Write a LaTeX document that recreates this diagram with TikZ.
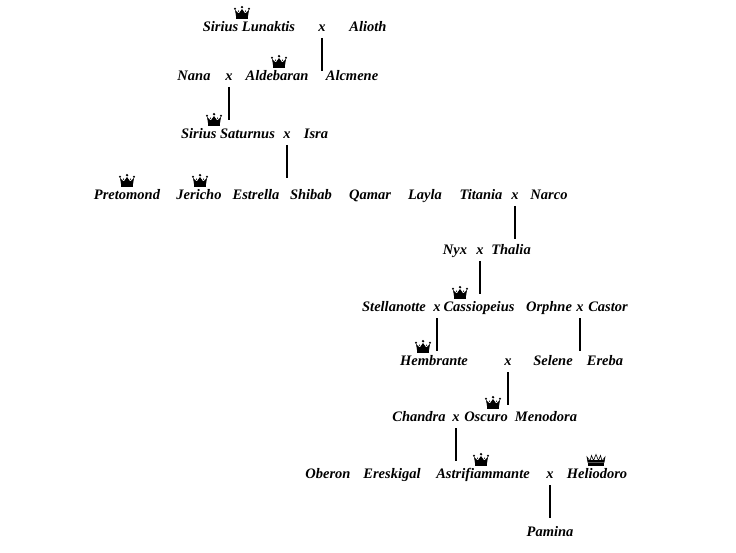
\documentclass[tikz,border=0pt]{standalone}
\usepackage{fontspec}
\setmainfont{Liberation Serif}
\tikzset{
  nm/.style={anchor=base, inner sep=0pt, font=\fontsize{14.5}{16}\selectfont\bfseries\itshape},
  link/.style={line width=1.6pt, black},
  crown/.pic={
    \fill[black] (-6,-12) rectangle (6,-15);
    \fill[black] (-6,-15) -- (-7,-21) -- (-3.2,-17.5) -- (0,-22) -- (3.2,-17.5) -- (7,-21) -- (6,-15) -- cycle;
    \fill[black] (-7,-22.3) circle (1.1) (0,-23.8) circle (1.3) (7,-22.3) circle (1.1)
                 (-3.5,-19.8) circle (0.7) (3.5,-19.8) circle (0.7);
  },
  crownb/.pic={
    \fill[black] (-8,-12) rectangle (8,-15.5);
    \draw[black, line width=0.6pt] (-8,-15.5) -- (-9,-21) -- (-6,-17) -- (-4.5,-22.5) -- (-2.5,-17.5) -- (0,-23.5) -- (2.5,-17.5) -- (4.5,-22.5) -- (6,-17) -- (9,-21) -- (8,-15.5);
    \fill[black] (-8,-15.5) -- (-8.5,-18) -- (8.5,-18) -- (8,-15.5) -- cycle;
  }
}
\begin{document}
\begin{tikzpicture}[x=1pt, y=-1pt]
\useasboundingbox[fill=white] (0,0) rectangle (736,553);
% row 1
\node[nm] (lunaktis) at (249,31.5) {Sirius Lunaktis};
\node[nm] (x1) at (322,31.5) {x};
\node[nm] (alioth) at (368,31.5) {Alioth};
% row 2
\node[nm] (nana) at (194,80.5) {Nana};
\node[nm] (x2) at (229,80.5) {x};
\node[nm] (aldebaran) at (277,80.5) {Aldebaran};
\node[nm] (alcmene) at (352,80.5) {Alcmene};
% row 3
\node[nm] (saturnus) at (228,138.5) {Sirius Saturnus};
\node[nm] (x3) at (287,138.5) {x};
\node[nm] (isra) at (316,138.5) {Isra};
% row 4
\node[nm] (pretomond) at (127,199.5) {Pretomond};
\node[nm] (jericho) at (199,199.5) {Jericho};
\node[nm] (estrella) at (256,199.5) {Estrella};
\node[nm] (shibab) at (311,199.5) {Shibab};
\node[nm] (qamar) at (370,199.5) {Qamar};
\node[nm] (layla) at (425,199.5) {Layla};
\node[nm] (titania) at (481,199.5) {Titania};
\node[nm] (x4) at (515,199.5) {x};
\node[nm] (narco) at (549,199.5) {Narco};
% row 5
\node[nm] (nyx) at (455,254.5) {Nyx};
\node[nm] (x5) at (480,254.5) {x};
\node[nm] (thalia) at (511,254.5) {Thalia};
% row 6
\node[nm] (stellanotte) at (394,311.5) {Stellanotte};
\node[nm] (x6) at (437,311.5) {x};
\node[nm] (cassiopeius) at (479,311.5) {Cassiopeius};
\node[nm] (orphne) at (549,311.5) {Orphne};
\node[nm] (x7) at (580,311.5) {x};
\node[nm] (castor) at (608,311.5) {Castor};
% row 7
\node[nm] (hembrante) at (434,365.5) {Hembrante};
\node[nm] (x8) at (508,365.5) {x};
\node[nm] (selene) at (553,365.5) {Selene};
\node[nm] (ereba) at (605,365.5) {Ereba};
% row 8
\node[nm] (chandra) at (419,421.5) {Chandra};
\node[nm] (x9) at (456,421.5) {x};
\node[nm] (oscuro) at (486,421.5) {Oscuro};
\node[nm] (menodora) at (546,421.5) {Menodora};
% row 9
\node[nm] (oberon) at (328,478.5) {Oberon};
\node[nm] (ereskigal) at (392,478.5) {Ereskigal};
\node[nm] (astri) at (483,478.5) {Astrifiammante};
\node[nm] (x10) at (550,478.5) {x};
\node[nm] (heliodoro) at (597,478.5) {Heliodoro};
% row 10
\node[nm] (pamina) at (550,536.5) {Pamina};
% crowns
\pic at (242,31) {crown};
\pic at (279,80) {crown};
\pic at (214,138) {crown};
\pic at (127,199) {crown};
\pic at (200,199) {crown};
\pic at (460,311) {crown};
\pic at (423,365) {crown};
\pic at (493,421) {crown};
\pic at (481,478) {crown};
\pic at (596,478) {crownb};
% connectors
\foreach \n in {x1,x2,x3,x4,x5,x6,x7,x8,x9,x10}
  \draw[link] ([yshift=-6.5pt]\n.base) -- ([yshift=-39.5pt]\n.base);
\end{tikzpicture}
\end{document}
